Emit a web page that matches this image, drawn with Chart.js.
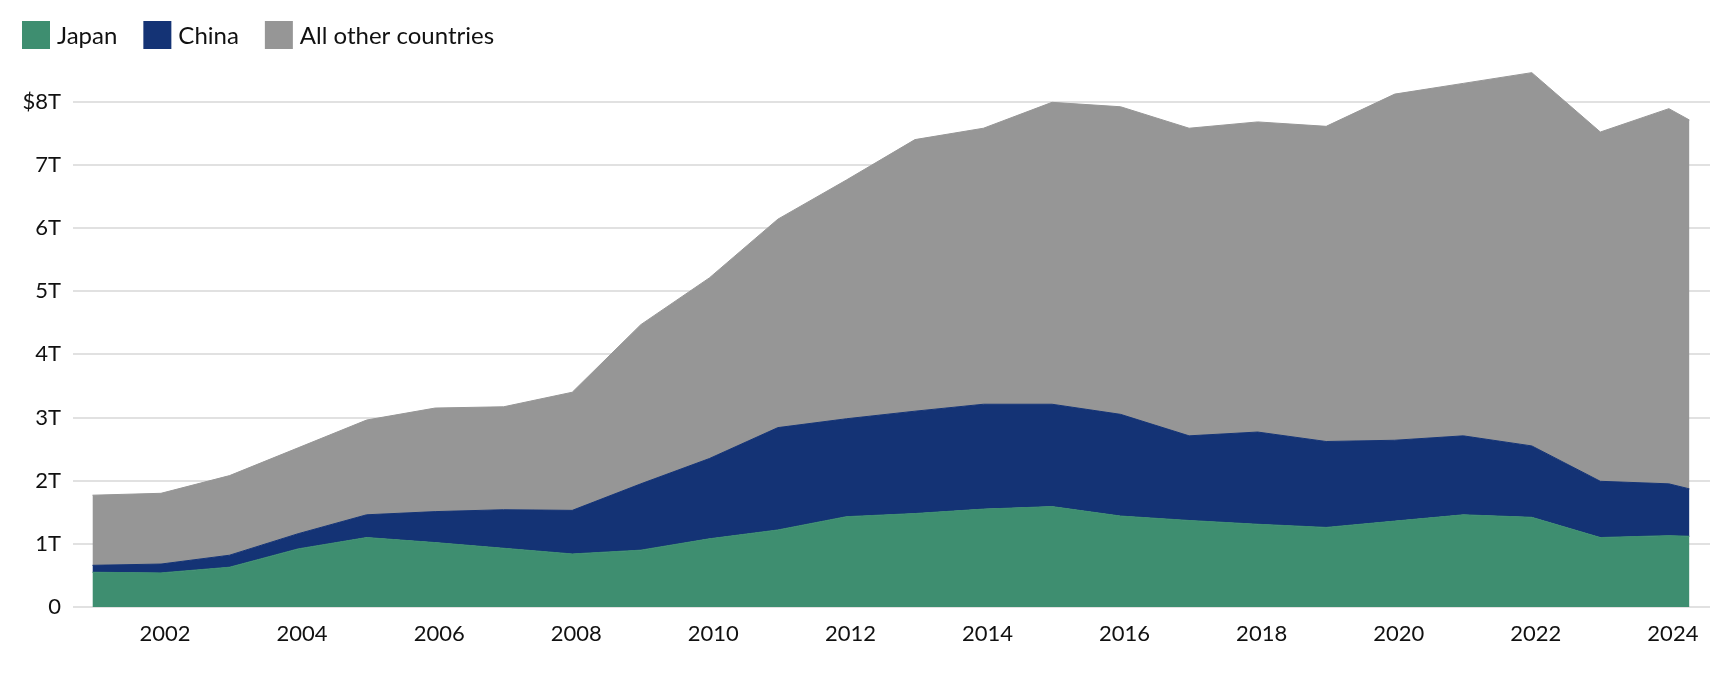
<!DOCTYPE html>
<html>
<head>
<meta charset="utf-8">
<script src="https://cdn.jsdelivr.net/npm/chart.js@4/dist/chart.umd.min.js"></script>
<style>
  html, body { margin: 0; padding: 0; background: #ffffff; }
  #wrap { width: 1718px; height: 674px; position: relative; }
</style>
</head>
<body>
<div id="wrap"><canvas id="chart"></canvas></div>
<script>
// ---- Data ($ trillions) ----
const periods = [2001, 2002, 2003, 2004, 2005, 2006, 2007, 2008, 2009, 2010, 2011, 2012,
                 2013, 2014, 2015, 2016, 2017, 2018, 2019, 2020, 2021, 2022, 2023, 2024, 2024.3];
const japan = [0.55, 0.54, 0.63, 0.92, 1.10, 1.02, 0.93, 0.84, 0.90, 1.08, 1.22, 1.43,
               1.48, 1.55, 1.59, 1.44, 1.37, 1.31, 1.26, 1.36, 1.46, 1.42, 1.10, 1.13, 1.12];
const china = [0.11, 0.14, 0.19, 0.24, 0.36, 0.49, 0.61, 0.69, 1.05, 1.27, 1.62, 1.55,
               1.62, 1.66, 1.62, 1.61, 1.34, 1.46, 1.36, 1.28, 1.25, 1.13, 0.89, 0.82, 0.75];
const other = [1.11, 1.12, 1.26, 1.36, 1.50, 1.64, 1.63, 1.87, 2.52, 2.86, 3.30, 3.78,
               4.30, 4.37, 4.78, 4.87, 4.87, 4.91, 4.99, 5.48, 5.58, 5.91, 5.53, 5.94, 5.84];
const seriesNames = ['Japan', 'China', 'All other countries'];
const xTickYears = [2002, 2004, 2006, 2008, 2010, 2012, 2014, 2016, 2018, 2020, 2022, 2024];
const yTickValues = [0, 1, 2, 3, 4, 5, 6, 7, 8];

// ---- Styles ----
const colors = ['#3e8e70', '#143375', '#969696'];
const FONT = 'Lato, "Noto Sans", sans-serif';
const legendStyle = { x0: 22, boxTop: 21, box: 28, textGap: 7, itemGap: 26, size: 24, color: '#111111' };

const toPoints = arr => arr.map((v, i) => ({ x: periods[i], y: v }));
const seriesValues = [japan, china, other];

const datasets = seriesValues.map((vals, i) => ({
  label: seriesNames[i],
  data: toPoints(vals),
  backgroundColor: colors[i],
  borderColor: colors[i],
  borderWidth: 1,
  pointRadius: 0,
  pointHoverRadius: 0,
  tension: 0,
  fill: i === 0 ? 'origin' : '-1'
}));

// Legend drawn on the chart canvas (square swatches, tight text gap)
const swatchLegend = {
  id: 'swatchLegend',
  afterDraw(chart) {
    const ctx = chart.ctx;
    const s = legendStyle;
    ctx.save();
    ctx.font = s.size + 'px ' + FONT;
    ctx.textAlign = 'left';
    ctx.textBaseline = 'middle';
    let x = s.x0;
    chart.data.datasets.forEach((ds, i) => {
      ctx.fillStyle = ds.backgroundColor;
      ctx.fillRect(x, s.boxTop, s.box, s.box);
      const tx = x + s.box + s.textGap;
      ctx.fillStyle = s.color;
      ctx.fillText(ds.label, tx, s.boxTop + s.box / 2 + 1);
      x = tx + ctx.measureText(ds.label).width + s.itemGap;
    });
    ctx.restore();
  }
};

Chart.defaults.font.family = FONT;
Chart.defaults.color = '#111111';

new Chart(document.getElementById('chart'), {
  type: 'line',
  data: { datasets },
  plugins: [swatchLegend],
  options: {
    responsive: true,
    maintainAspectRatio: false,
    animation: false,
    layout: { padding: { left: 7, top: 59, right: 8, bottom: 0 } },
    plugins: {
      legend: { display: false },
      tooltip: { enabled: false }
    },
    scales: {
      x: {
        type: 'linear',
        min: 2000.716,
        max: 2024.60,
        grid: { display: false, drawTicks: false },
        border: { display: false },
        afterBuildTicks: s => { s.ticks = xTickYears.map(v => ({ value: v })); },
        afterFit: s => { s.height = 67; },
        ticks: {
          autoSkip: false,
          maxRotation: 0,
          padding: 14,
          labelOffset: 4,
          color: '#111111',
          font: { family: FONT, size: 22 },
          callback: v => String(v)
        }
      },
      y: {
        stacked: true,
        min: 0,
        max: 8.676,
        grid: { color: '#e1e1e1', lineWidth: 2, drawTicks: false },
        border: { display: false },
        afterBuildTicks: s => { s.ticks = yTickValues.map(v => ({ value: v })); },
        afterFit: s => { s.width = 66; },
        ticks: {
          padding: 12,
          color: '#111111',
          font: { family: FONT, size: 22 },
          callback: v => v === 8 ? '$8T' : (v === 0 ? '0' : v + 'T')
        }
      }
    }
  }
});
</script>
</body>
</html>
